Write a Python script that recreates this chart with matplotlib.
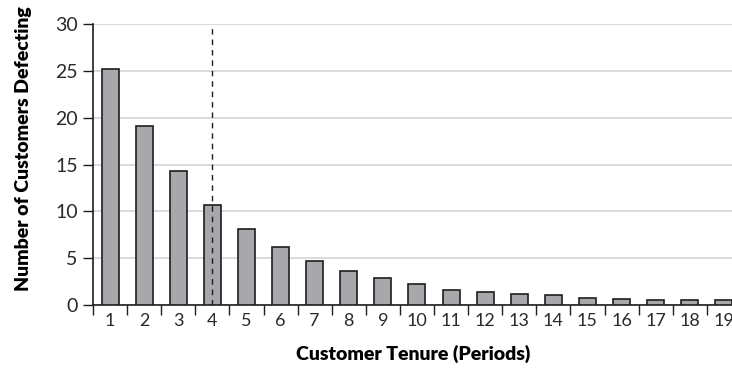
import matplotlib
matplotlib.use("Agg")
import matplotlib.pyplot as plt

# customers defecting in each tenure period
periods = list(range(1, 20))
defecting = [25.2, 19.1, 14.3, 10.7, 8.1, 6.15, 4.75, 3.6, 2.9, 2.2,
             1.6, 1.35, 1.2, 1.05, 0.8, 0.65, 0.5, 0.5, 0.5]
y_ticks = [0, 5, 10, 15, 20, 25, 30]
cutoff = 4

plt.rcParams['font.family'] = ['Lato', 'DejaVu Sans']

fig = plt.figure(figsize=(7.32, 3.70), dpi=100)
ax = fig.add_axes([93 / 732, 65 / 370, 1 - 93 / 732, 281 / 370])

ax.bar(periods, defecting, width=0.5, color='#a7a7ac', edgecolor='#1e1e1e',
       linewidth=1.2, zorder=3)
ax.axvline(cutoff, color='#1e1e1e', linestyle=(0, (4, 3.5)), linewidth=1, zorder=4)

ax.set_xlim(0.5, 0.5 + (732 - 93) / 34.1)
ax.set_ylim(0, 30)
ax.set_yticks(y_ticks)
ax.yaxis.grid(True, color='#d4d4d4', linewidth=1.2, zorder=0)

ax.set_xticks(periods)
ax.set_xticklabels([str(p) for p in periods])
ax.set_xticks([p + 0.5 for p in range(0, 19)], minor=True)
ax.tick_params(axis='x', which='major', length=0, pad=6, labelsize=13, colors='#2a2a2a')
ax.tick_params(axis='x', which='minor', length=7, width=1, color='#1e1e1e')
ax.tick_params(axis='y', length=7, width=1, color='#1e1e1e', labelsize=14, pad=4,
               labelcolor='#2a2a2a')

for s in ['top', 'right']:
    ax.spines[s].set_visible(False)
for s in ['left', 'bottom']:
    ax.spines[s].set_color('#1e1e1e')
    ax.spines[s].set_linewidth(1.2)

ax.set_ylabel('Number of Customers Defecting', fontsize=14, fontweight='heavy')
ax.set_xlabel('Customer Tenure (Periods)', fontsize=14, fontweight='heavy')
ax.yaxis.set_label_coords((32 - 93) / (732 - 93), 0.555)
ax.xaxis.set_label_coords((413 - 93) / (732 - 93), -0.142)

fig.savefig('out.png', dpi=100)
